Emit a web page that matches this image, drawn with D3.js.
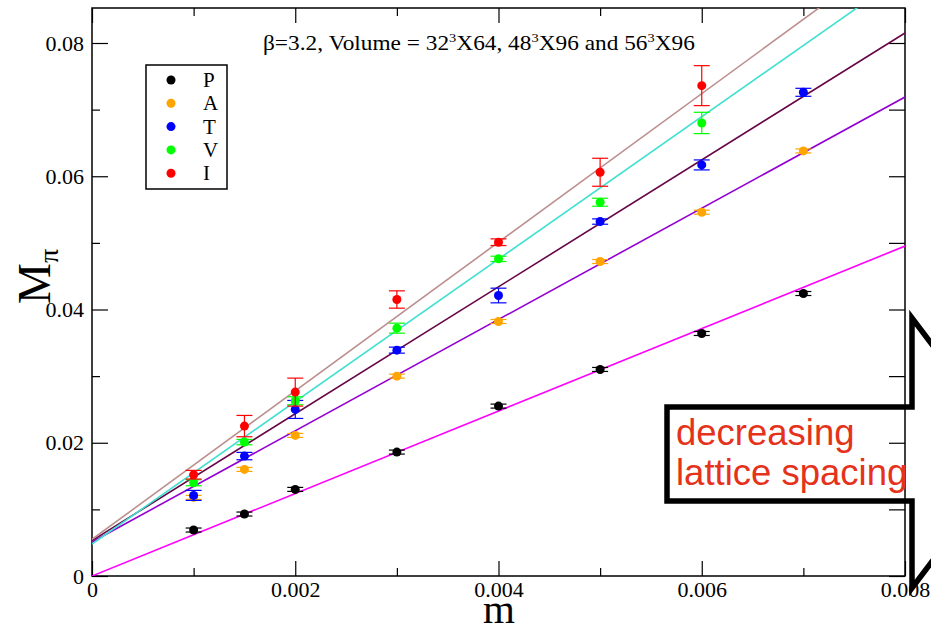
<!DOCTYPE html>
<html>
<head>
<meta charset="utf-8">
<script src="https://cdn.jsdelivr.net/npm/d3@7"></script>
<style>
  body { margin: 0; background: #fff; }
  svg { display: block; }
</style>
</head>
<body>
<div id="chart"></div>
<script>
// quark masses on the x axis
const masses = [0.001, 0.0015, 0.002, 0.003, 0.004, 0.005, 0.006, 0.007];

// pion masses per channel and their errors
const valuesP = [0.0069, 0.0093, 0.0130, 0.0186, 0.0255, 0.0310, 0.0364, 0.0424];
const errorsP = [0.0003, 0.0003, 0.0003, 0.0003, 0.0003, 0.0003, 0.0003, 0.0003];
const valuesA = [0.0118, 0.0160, 0.0211, 0.0300, 0.0382, 0.0472, 0.0546, 0.0638];
const errorsA = [0.0003, 0.0003, 0.0003, 0.0003, 0.0003, 0.0003, 0.0003, 0.0003];
const valuesT = [0.0121, 0.0180, 0.0250, 0.0339, 0.0421, 0.0532, 0.0617, 0.0726];
const errorsT = [0.00075, 0.00055, 0.00135, 0.00045, 0.0011, 0.0004, 0.00075, 0.0006];
const valuesV = [0.0140, 0.0201, 0.0263, 0.0372, 0.0476, 0.0561, 0.0680];
const errorsV = [0.00045, 0.0004, 0.0006, 0.00075, 0.0004, 0.0006, 0.0016];
const valuesI = [0.0152, 0.0225, 0.0276, 0.0415, 0.0501, 0.0606, 0.0736];
const errorsI = [0.00065, 0.0016, 0.0021, 0.0013, 0.0005, 0.0021, 0.0030];

// linear fits: intercept, slope
const fitP = [0, 6.19];
const fitA = [0.0051, 8.35];
const fitT = [0.0053, 9.525];
const fitV = [0.0048, 10.69];
const fitI = [0.0055, 11.15];

const labels = ["P", "A", "T", "V", "I"];

const xTicks = [0, 0.002, 0.004, 0.006, 0.008];
const xMinor = [0.001, 0.003, 0.005, 0.007];
const yTicks = [0, 0.02, 0.04, 0.06, 0.08];
const yMinor = [0.01, 0.03, 0.05, 0.07];

const series = [
    {name: "P", values: valuesP, errors: errorsP, fit: fitP, color: "#000000", fitColor: "#ff00ff"},
    {name: "A", values: valuesA, errors: errorsA, fit: fitA, color: "#ffa500", fitColor: "#9400d3"},
    {name: "T", values: valuesT, errors: errorsT, fit: fitT, color: "#0000ff", fitColor: "#670748"},
    {name: "V", values: valuesV, errors: errorsV, fit: fitV, color: "#00ff00", fitColor: "#40e0d0"},
    {name: "I", values: valuesI, errors: errorsI, fit: fitI, color: "#ff0000", fitColor: "#bc8f8f"}
];

const width = 931;
const height = 633;
const plotLeft = 92, plotRight = 905, plotTop = 8, plotBottom = 576;

const x = d3.scaleLinear().domain([0, 0.008]).range([plotLeft, plotRight]);
const y = d3.scaleLinear().domain([0, 0.08]).range([plotBottom, 43]);

const serif = "Liberation Serif";

const svg = d3.select("#chart").append("svg")
    .attr("width", width)
    .attr("height", height)
    .attr("viewBox", [0, 0, width, height]);

svg.append("defs").append("clipPath")
    .attr("id", "plot-clip")
    .append("rect")
    .attr("x", plotLeft).attr("y", plotTop)
    .attr("width", plotRight - plotLeft).attr("height", plotBottom - plotTop);

// Axes (ticks point inward)
const fmtX = d => d === 0 ? "0" : d3.format(".3f")(d);
const fmtY = d => d === 0 ? "0" : d3.format(".2f")(d);

function styleAxis(g) {
    g.attr("font-family", serif).attr("font-size", 22);
    g.select(".domain").remove();
    g.selectAll("line").attr("stroke", "#000").attr("stroke-width", 1.2);
    g.selectAll("text").attr("fill", "#000");
}

svg.append("g")
    .attr("transform", `translate(0,${plotBottom})`)
    .call(d3.axisBottom(x).tickValues(xTicks).tickFormat(fmtX).tickSize(-15).tickPadding(5))
    .call(styleAxis);
svg.append("g")
    .attr("transform", `translate(0,${plotBottom})`)
    .call(d3.axisBottom(x).tickValues(xMinor).tickFormat("").tickSize(-8))
    .call(styleAxis);
svg.append("g")
    .attr("transform", `translate(0,${plotTop})`)
    .call(d3.axisTop(x).tickValues(xTicks).tickFormat("").tickSize(-15))
    .call(styleAxis);
svg.append("g")
    .attr("transform", `translate(0,${plotTop})`)
    .call(d3.axisTop(x).tickValues(xMinor).tickFormat("").tickSize(-8))
    .call(styleAxis);

svg.append("g")
    .attr("transform", `translate(${plotLeft},0)`)
    .call(d3.axisLeft(y).tickValues(yTicks).tickFormat(fmtY).tickSize(-16).tickPadding(8))
    .call(styleAxis);
svg.append("g")
    .attr("transform", `translate(${plotLeft},0)`)
    .call(d3.axisLeft(y).tickValues(yMinor).tickFormat("").tickSize(-8))
    .call(styleAxis);
svg.append("g")
    .attr("transform", `translate(${plotRight},0)`)
    .call(d3.axisRight(y).tickValues(yTicks.concat(yMinor)).tickFormat("").tickSize(-16))
    .call(styleAxis);

// Frame
svg.append("rect")
    .attr("x", plotLeft).attr("y", plotTop)
    .attr("width", plotRight - plotLeft).attr("height", plotBottom - plotTop)
    .attr("fill", "none")
    .attr("stroke", "#000")
    .attr("stroke-width", 1.5);

// Fit lines
const plot = svg.append("g").attr("clip-path", "url(#plot-clip)");
const line = d3.line().x(d => x(d[0])).y(d => y(d[1]));

series.forEach(s => {
    const ends = x.domain().map(m => [m, s.fit[0] + s.fit[1] * m]);
    plot.append("path")
        .datum(ends)
        .attr("fill", "none")
        .attr("stroke", s.fitColor)
        .attr("stroke-width", 1.6)
        .attr("d", line);
});

// Error bars and points
series.forEach(s => {
    const pts = s.values.map((v, i) => ({m: masses[i], v: v, e: s.errors[i]}));
    const g = plot.append("g").attr("stroke", s.color).attr("fill", s.color);

    g.selectAll(".bar").data(pts).join("line")
        .attr("x1", d => x(d.m)).attr("x2", d => x(d.m))
        .attr("y1", d => y(d.v - d.e)).attr("y2", d => y(d.v + d.e))
        .attr("stroke-width", 1.2);
    [-1, 1].forEach(sign => {
        g.selectAll(null).data(pts).join("line")
            .attr("x1", d => x(d.m) - 8).attr("x2", d => x(d.m) + 8)
            .attr("y1", d => y(d.v + sign * d.e)).attr("y2", d => y(d.v + sign * d.e))
            .attr("stroke-width", 1.2);
    });
    g.selectAll("circle").data(pts).join("circle")
        .attr("cx", d => x(d.m))
        .attr("cy", d => y(d.v))
        .attr("r", 4.5)
        .attr("stroke", "none");
});

// Legend
const legend = svg.append("g")
    .attr("font-family", serif)
    .attr("font-size", 21);
legend.append("rect")
    .attr("x", 146).attr("y", 65)
    .attr("width", 81).attr("height", 124)
    .attr("fill", "#fff")
    .attr("stroke", "#000")
    .attr("stroke-width", 1.5);

series.forEach((s, idx) => {
    const item = legend.append("g")
        .attr("transform", `translate(0, ${80 + idx * 23.3})`);
    item.append("circle")
        .attr("cx", 171).attr("cy", 0).attr("r", 4.5)
        .attr("fill", s.color);
    item.append("text")
        .attr("x", 203).attr("y", 7)
        .text(labels[idx]);
});

// Title
const titleG = svg.append("g").attr("transform", "translate(263,50)");
const title = titleG.append("text")
    .attr("font-family", serif)
    .attr("font-size", 21);
const parts = [["\u03b2=3.2, Volume = 32", false], ["3", true], ["X64, 48", false], ["3", true],
               ["X96 and 56", false], ["3", true], ["X96", false]];
let raised = false;
parts.forEach(([t, sup]) => {
    let dy = 0;
    if (sup && !raised) { dy = -8; raised = true; }
    else if (!sup && raised) { dy = 8; raised = false; }
    title.append("tspan")
        .attr("dy", dy)
        .attr("font-size", sup ? 13 : 21)
        .text(t);
});
const titleWidth = title.node().getComputedTextLength();
titleG.attr("transform", `translate(263,50) scale(${432 / titleWidth},1)`);

// Axis labels
svg.append("text")
    .attr("x", 499).attr("y", 623)
    .attr("text-anchor", "middle")
    .attr("font-family", serif)
    .attr("font-size", 41)
    .text("m");

const yl = svg.append("text")
    .attr("transform", "translate(50,304) rotate(-90)")
    .attr("font-family", serif)
    .attr("font-size", 46);
yl.append("tspan").text("M");
yl.append("tspan").attr("dy", 8).attr("font-size", 28).text("\u03c0");

// Annotation: block arrow with text
const sans = "Liberation Sans";
svg.append("text")
    .attr("x", 676).attr("y", 445)
    .attr("fill", "#e5321b")
    .attr("font-family", sans)
    .attr("font-size", 36.5)
    .text("decreasing");
svg.append("text")
    .attr("x", 676).attr("y", 485)
    .attr("fill", "#e5321b")
    .attr("font-family", sans)
    .attr("font-size", 36.5)
    .text("lattice spacing");

const arrowPts = [[667, 407], [912, 407], [912, 318], [1014, 453], [912, 588], [912, 501], [667, 501]];
svg.append("path")
    .attr("d", "M" + arrowPts.map(p => p.join(",")).join("L") + "Z")
    .attr("fill", "none")
    .attr("stroke", "#000")
    .attr("stroke-width", 5.5)
    .attr("stroke-linejoin", "miter");
</script>
</body>
</html>
